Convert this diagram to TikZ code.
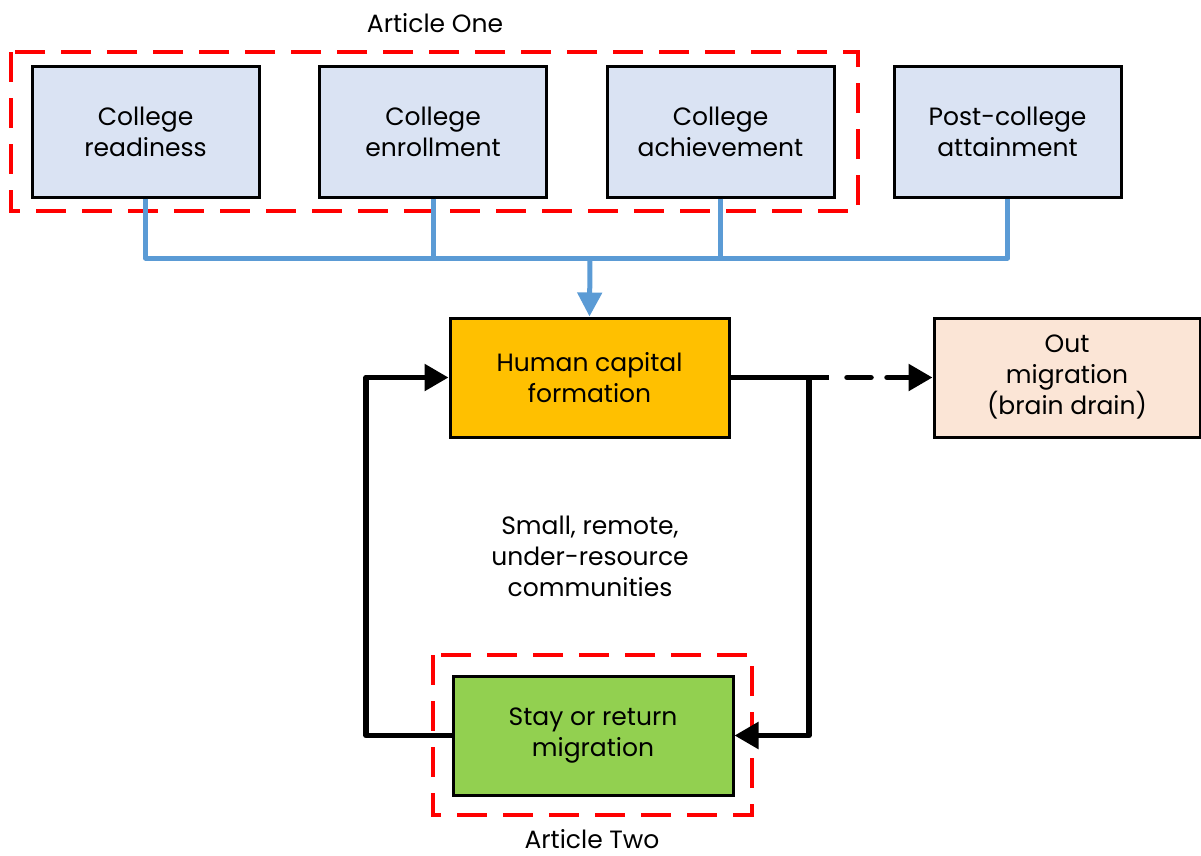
\documentclass[tikz,border=0pt]{standalone}
\usepackage{fontspec}
\setmainfont{Poppins}
\usetikzlibrary{arrows.meta}
\definecolor{boxblue}{HTML}{DAE3F3}
\definecolor{busblue}{HTML}{5B9BD5}
\definecolor{hcgold}{HTML}{FFC000}
\definecolor{outpeach}{HTML}{FBE5D6}
\definecolor{staygreen}{HTML}{92D050}
\definecolor{redline}{HTML}{FF0000}
\tikzset{
  base/.style={draw=black, line width=3pt, align=center, inner sep=0pt,
    font=\fontsize{25}{31}\selectfont},
  topbox/.style={base, fill=boxblue, minimum width=227pt, minimum height=131pt},
  midbox/.style={base, minimum width=279pt, minimum height=119pt},
  article/.style={draw=redline, line width=4pt, dash pattern=on 30pt off 16pt},
  bus/.style={draw=busblue, line width=5pt},
  flow/.style={draw=black, line width=5.5pt},
  tip/.style={-{Triangle[length=24pt,width=26pt]}},
  lbl/.style={align=center, font=\fontsize{25}{31}\selectfont}
}
\begin{document}
\begin{tikzpicture}[x=1pt,y=-1pt]
\useasboundingbox (0,0) rectangle (1201,855);
% article frames
\draw[article] (11,52) rectangle (858,211);
\draw[article] (433,655) rectangle (752,815);
\node[lbl] (a1) at (435,23) {Article One};
\node[lbl] (a2) at (592,839) {Article Two};
% top boxes
\node[topbox] (b1) at (145.5,131.5) {College\\readiness};
\node[topbox] (b2) at (433,131.5) {College\\enrollment};
\node[topbox] (b3) at (720.5,131.5) {College\\achievement};
\node[topbox] (b4) at (1007.5,131.5) {Post-college\\attainment};
% middle boxes
\node[midbox, fill=hcgold] (hc) at (589.5,377.5) {Human capital\\formation};
\node[midbox, fill=outpeach, minimum width=266pt] (out) at (1067,377.5) {Out\\migration\\(brain drain)};
\node[midbox, fill=staygreen, minimum width=280pt] (stay) at (593,735.5) {Stay or return\\migration};
\node[lbl] (comm) at (590,556) {Small, remote,\\under-resource\\communities};
% bus
\coordinate (busc) at (590,258);
\draw[bus, line join=round] (b1.south) |- (b4.south |- busc) -- (b4.south);
\draw[bus] (b2.south) -- (b2.south |- busc);
\draw[bus] (b3.south) -- (b3.south |- busc);
\draw[bus, -{Triangle[length=24pt,width=24pt]}] (busc) -- (hc.north);
% flows
\coordinate (split) at (829,377.5);
\coordinate (drop) at (809,377.5);
\draw[flow] (hc.east) -- (split);
\draw[flow, tip, dash pattern=on 24pt off 16pt, line cap=round] ([xshift=18pt]split) -- (out.west);
\draw[flow, tip, line join=round] (drop) |- (stay.east);
\draw[flow, tip, line join=round] (stay.west) -| (366,377.5) -- (hc.west);
\end{tikzpicture}
\end{document}
